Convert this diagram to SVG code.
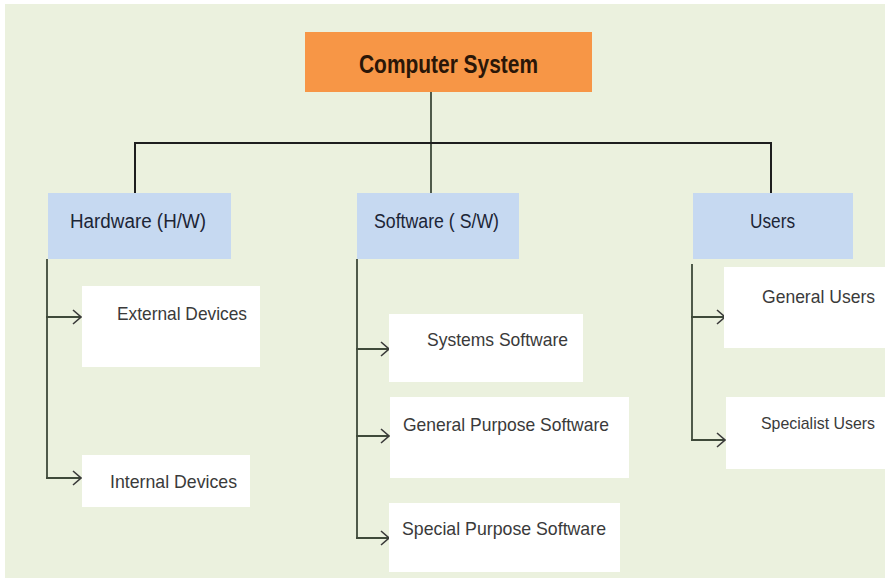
<svg xmlns="http://www.w3.org/2000/svg" width="885" height="579" viewBox="0 0 885 579">
<style>
  .bg{fill:#ebf1de}
  .root{fill:#f79646}
  .cat{fill:#c6d9f1}
  .leaf{fill:#ffffff}
  .t{font-family:"Liberation Sans",Arial,sans-serif;}
  .tr{font-size:25px;font-weight:bold;fill:#2a1608}
  .tc{font-size:20px;fill:#1c2536}
  .tl{font-size:19px;fill:#3a3a3a}
  .ln{stroke:#1e1e1e;stroke-width:2;fill:none}
  .tk{stroke:#3f4a3a;stroke-width:1.8;fill:none}
</style>
<defs>
  <marker id="arr" viewBox="0 0 12 16" refX="11" refY="8" markerWidth="12" markerHeight="16" markerUnits="userSpaceOnUse" orient="auto">
    <path d="M3,1 L11,8 L3,15" fill="none" stroke="#3a3a3a" stroke-width="1.6"/>
  </marker>
</defs>
<rect x="5" y="4" width="880" height="574" class="bg"/>

<g id="connectors">
  <line x1="431" y1="92" x2="431" y2="193" class="tk" stroke="#7a8276"/>
  <polyline points="135,193 135,143 771,143 771,193" class="ln"/>
  <line x1="47" y1="259" x2="47" y2="479" class="tk"/>
  <line x1="46" y1="317" x2="81" y2="317" class="tk" marker-end="url(#arr)"/>
  <line x1="46" y1="478" x2="81" y2="478" class="tk" marker-end="url(#arr)"/>
  <line x1="357" y1="259" x2="357" y2="539" class="tk"/>
  <line x1="356" y1="349" x2="389" y2="349" class="tk" marker-end="url(#arr)"/>
  <line x1="356" y1="436" x2="389" y2="436" class="tk" marker-end="url(#arr)"/>
  <line x1="356" y1="538" x2="389" y2="538" class="tk" marker-end="url(#arr)"/>
  <line x1="692" y1="264" x2="692" y2="441" class="tk"/>
  <line x1="691" y1="317" x2="725" y2="317" class="tk" marker-end="url(#arr)"/>
  <line x1="691" y1="440" x2="725" y2="440" class="tk" marker-end="url(#arr)"/>
</g>

<g id="computer-system">
  <rect x="305" y="32" width="287" height="60" class="root"/>
  <text x="359" y="73" class="t tr" textLength="179" lengthAdjust="spacingAndGlyphs">Computer System</text>
</g>

<g id="hardware">
  <rect x="48" y="193" width="183" height="66" class="cat"/>
  <text x="70" y="228" class="t tc" textLength="136" lengthAdjust="spacingAndGlyphs">Hardware  (H/W)</text>
</g>
<g id="software">
  <rect x="357" y="193" width="162" height="66" class="cat"/>
  <text x="374" y="228" class="t tc" textLength="125" lengthAdjust="spacingAndGlyphs">Software ( S/W)</text>
</g>
<g id="users">
  <rect x="693" y="193" width="160" height="66" class="cat"/>
  <text x="750" y="228" class="t tc" textLength="45" lengthAdjust="spacingAndGlyphs">Users</text>
</g>

<g id="external-devices">
  <rect x="82" y="286" width="178" height="81" class="leaf"/>
  <text x="117" y="320" class="t tl" textLength="130" lengthAdjust="spacingAndGlyphs">External Devices</text>
</g>
<g id="internal-devices">
  <rect x="82" y="455" width="168" height="52" class="leaf"/>
  <text x="110" y="488" class="t tl" textLength="127" lengthAdjust="spacingAndGlyphs">Internal Devices</text>
</g>

<g id="systems-software">
  <rect x="389" y="314" width="194" height="68" class="leaf"/>
  <text x="427" y="346" class="t tl" textLength="141" lengthAdjust="spacingAndGlyphs">Systems Software</text>
</g>
<g id="general-purpose-software">
  <rect x="390" y="397" width="239" height="81" class="leaf"/>
  <text x="403" y="431" class="t tl" textLength="206" lengthAdjust="spacingAndGlyphs">General Purpose Software</text>
</g>
<g id="special-purpose-software">
  <rect x="389" y="503" width="231" height="69" class="leaf"/>
  <text x="402" y="535" class="t tl" textLength="204" lengthAdjust="spacingAndGlyphs">Special Purpose Software</text>
</g>

<g id="general-users">
  <rect x="724" y="267" width="161" height="81" class="leaf"/>
  <text x="762" y="303" class="t tl" textLength="113" lengthAdjust="spacingAndGlyphs">General Users</text>
</g>
<g id="specialist-users">
  <rect x="726" y="397" width="159" height="72" class="leaf"/>
  <text x="761" y="429" class="t tl" style="font-size:17px" textLength="114" lengthAdjust="spacingAndGlyphs">Specialist Users</text>
</g>
</svg>
